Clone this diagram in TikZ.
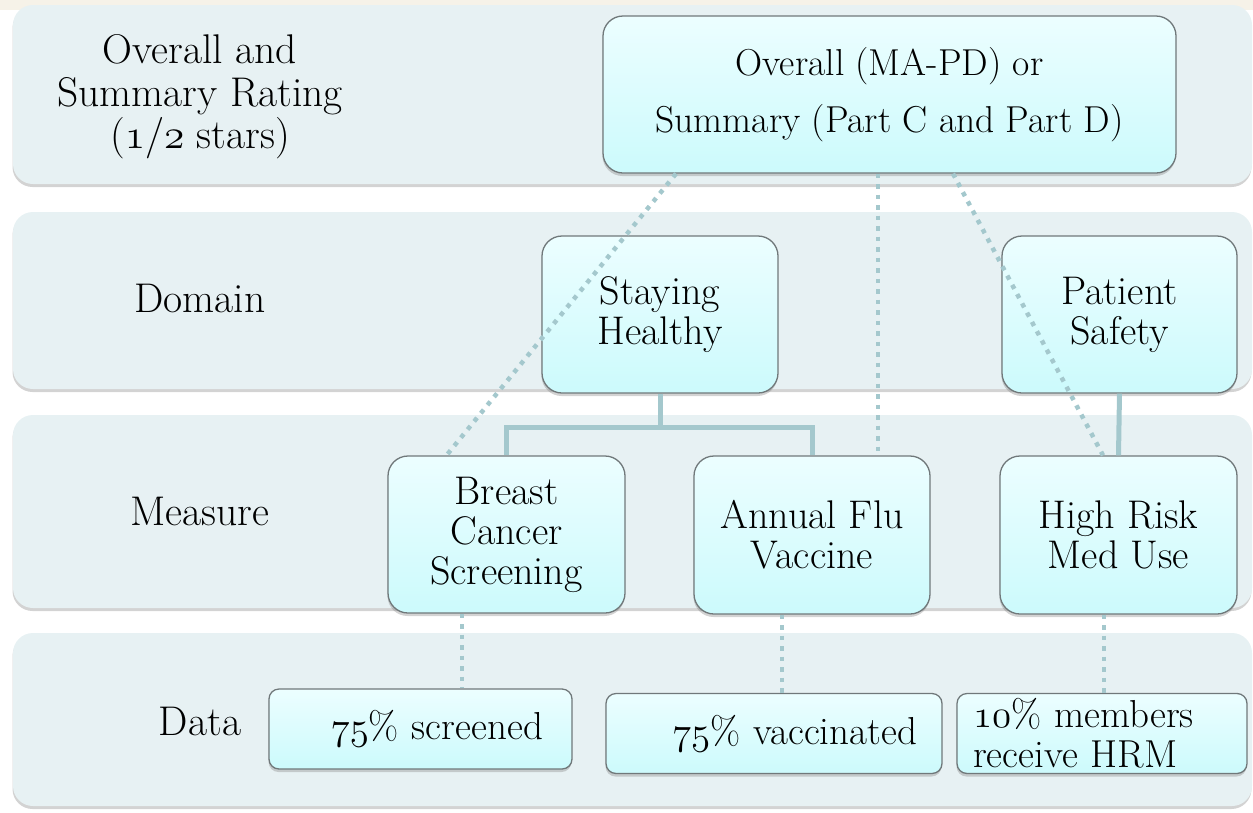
\RequirePackage{fix-cm}
\documentclass[tikz,border=0pt]{standalone}
\usepackage{fontspec}
\usetikzlibrary{shadows}
\definecolor{slidetop}{RGB}{246,242,232}
\definecolor{bandfill}{RGB}{231,241,243}
\definecolor{boxtop}{RGB}{236,254,255}
\definecolor{boxbottom}{RGB}{204,250,252}
\definecolor{boxline}{RGB}{112,120,122}
\definecolor{linkteal}{RGB}{164,200,205}
\newcommand\osfig[1]{{\usefont{OML}{cmm}{m}{it}#1}}

\begin{document}
\begin{tikzpicture}[x=1pt, y=-1pt,
    band/.style={fill=bandfill, rounded corners=20pt,
        drop shadow={shadow xshift=-0.5pt, shadow yshift=-3pt, opacity=0.35}},
    levelbox/.style={draw=boxline, line width=1.3pt, rounded corners=20pt,
        top color=boxtop, bottom color=boxbottom, inner sep=0pt, align=center,
        drop shadow={shadow xshift=-0.5pt, shadow yshift=-3pt, opacity=0.35},
        font=\fontsize{40}{40}\selectfont},
    databox/.style={levelbox, rounded corners=10pt, minimum height=80pt,
        font=\fontsize{39}{40}\selectfont},
    rowlabel/.style={align=center, font=\fontsize{41.5}{42.5}\selectfont},
    treelink/.style={draw=linkteal, line width=5pt},
    datalink/.style={draw=linkteal, line width=4.5pt, dash pattern=on 4.5pt off 6pt}]
    \useasboundingbox (0,0) rectangle (1253,812);
    \fill[slidetop] (0,0) rectangle (1253,10);

    % level bands
    \path[band] (13,5) rectangle (1252,184);
    \path[band] (13,212) rectangle (1252,389);
    \path[band] (13,415) rectangle (1252,608);
    \path[band] (13,633) rectangle (1252,806);

    % row labels
    \node[rowlabel] (toplabel) at (200,97) {Overall and\\Summary Rating\\(\osfig{1}/\osfig{2} stars)};
    \node[rowlabel] (domainlabel) at (200,298) {Domain};
    \node[rowlabel] (measurelabel) at (200,511) {Measure};
    \node[rowlabel] (datalabel) at (200,721) {Data};

    % boxes
    \node[levelbox, minimum width=573pt, minimum height=157pt, font=\fontsize{37.5}{57}\selectfont] (overall) at (889.5,94.5) {Overall (MA-PD) or\\Summary (Part C and Part D)};
    \node[levelbox, minimum width=236pt, minimum height=157pt] (staying) at (660,314.5) {Staying\\Healthy};
    \node[levelbox, minimum width=235pt, minimum height=157pt] (patient) at (1119.5,314.5) {Patient\\Safety};
    \node[levelbox, minimum width=237pt, minimum height=157pt] (breast) at (506.5,534.5) {Breast\\Cancer\\Screening};
    \node[levelbox, minimum width=236pt, minimum height=158pt] (annual) at (812,535) {Annual Flu\\Vaccine};
    \node[levelbox, minimum width=237pt, minimum height=158pt] (highrisk) at (1118.5,535) {High Risk\\Med Use};
    \node[databox, text width=245pt, inner xsep=29pt, align=right] (screened) at (420.5,729) {\osfig{75}\% screened};
    \node[databox, text width=286pt, inner xsep=25pt, align=right] (vaccinated) at (774,733.5) {\osfig{75}\% vaccinated};
    \node[databox, text width=258pt, inner xsep=16pt, align=left] (hrmdata) at (1102,733.5) {\osfig{10}\% members\\receive HRM};

    % tree links
    \draw[treelink] (staying.south) -- ++(0,34) -| (breast.north);
    \draw[treelink] (staying.south) ++(0,34) -| (annual.north);
    \draw[treelink] (patient.south) -- (highrisk.north);

    % rating links
    \draw[datalink] ([xshift=-213.5pt]overall.south) -- ([xshift=-60pt]breast.north);
    \draw[datalink] ([xshift=-11.5pt]overall.south) -- ([xshift=66pt]annual.north);
    \draw[datalink] ([xshift=63.5pt]overall.south) -- ([xshift=-15.5pt]highrisk.north);
    \draw[datalink] ([xshift=-44.5pt]breast.south) -- ([xshift=41.5pt]screened.north);
    \draw[datalink] ([xshift=-30pt]annual.south) -- ([xshift=8pt]vaccinated.north);
    \draw[datalink] ([xshift=-14.5pt]highrisk.south) -- ([xshift=2pt]hrmdata.north);
\end{tikzpicture}
\end{document}
